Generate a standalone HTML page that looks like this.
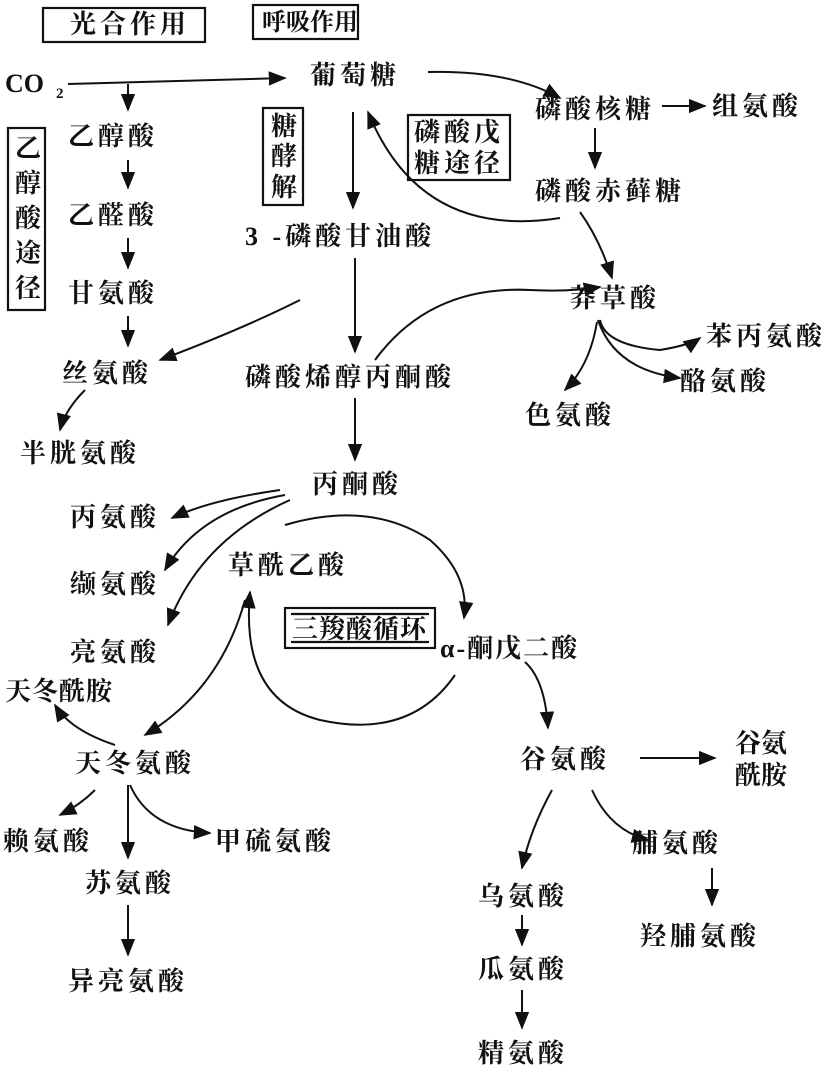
<!DOCTYPE html>
<html><head><meta charset="utf-8"><style>
html,body{margin:0;padding:0;background:#fff;}
svg{display:block}
text{font-family:"Liberation Serif","Noto Serif CJK SC","Noto Sans CJK SC",serif;font-size:26px;font-weight:bold;fill:#111;letter-spacing:4px;}
</style></head><body>
<svg width="831" height="1080" viewBox="0 0 831 1080" xmlns="http://www.w3.org/2000/svg">
<defs><marker id="a" viewBox="0 0 10 10" refX="9" refY="5" markerWidth="9" markerHeight="9" orient="auto"><path d="M0,1 L10,5 L0,9 z" fill="#111"/></marker></defs>
<g fill="none" stroke="#111" stroke-width="2.2">
<rect x="43" y="8" width="162" height="34"/>
<rect x="253" y="5" width="105" height="34"/>
<rect x="8" y="128" width="37" height="182"/>
<rect x="263" y="108" width="40" height="97"/>
<rect x="408" y="115" width="102" height="65"/>
<rect x="285" y="608" width="150" height="40"/><line x1="291" y1="614" x2="429" y2="614"/><line x1="291" y1="642" x2="429" y2="642"/>
</g>
<g fill="none" stroke="#111" stroke-width="2" marker-end="url(#a)">
<line x1="68" y1="84" x2="285" y2="78"/>
<line x1="128" y1="84" x2="128" y2="110"/>
<line x1="128" y1="160" x2="128" y2="188"/>
<line x1="128" y1="238" x2="128" y2="268"/>
<line x1="128" y1="316" x2="128" y2="346"/>
<path d="M300,300 Q240,330 160,360"/>
<path d="M85,390 Q65,410 60,430"/>
<line x1="353" y1="112" x2="353" y2="208"/>
<line x1="355" y1="258" x2="355" y2="352"/>
<line x1="355" y1="398" x2="355" y2="460"/>
<path d="M428,72 Q510,70 560,98"/>
<line x1="662" y1="106" x2="705" y2="106"/>
<line x1="595" y1="128" x2="595" y2="168"/>
<path d="M560,218 Q420,240 368,112"/>
<path d="M580,212 Q600,240 612,278"/>
<path d="M375,360 Q430,285 530,290 Q570,292 600,287"/>
<path d="M600,320 Q605,345 660,350 Q690,345 700,338"/>
<path d="M598,320 Q615,370 680,378"/>
<path d="M597,322 Q590,365 565,390"/>
<path d="M280,490 Q210,500 172,518"/>
<path d="M285,495 Q200,510 165,570"/>
<path d="M290,500 Q200,540 168,625"/>
<path d="M285,525 Q370,500 430,540 Q470,575 464,618"/>
<path d="M455,675 Q410,740 320,720 Q240,700 250,592"/>
<path d="M245,600 Q220,690 145,735"/>
<path d="M115,745 Q70,730 55,705"/>
<path d="M95,790 Q80,805 60,815"/>
<line x1="128" y1="785" x2="128" y2="858"/>
<path d="M130,785 Q150,830 210,833"/>
<line x1="128" y1="905" x2="128" y2="955"/>
<path d="M525,662 Q545,680 548,728"/>
<line x1="640" y1="758" x2="715" y2="758"/>
<path d="M552,790 Q530,830 522,868"/>
<path d="M592,790 Q610,830 648,840"/>
<line x1="712" y1="868" x2="712" y2="905"/>
<line x1="522" y1="915" x2="522" y2="945"/>
<line x1="522" y1="990" x2="522" y2="1028"/>
</g>
<text x="70" y="33">光合作用</text>
<text x="262" y="30" style="font-size:24px;letter-spacing:0">呼吸作用</text>
<text x="5" y="92" style="letter-spacing:0">CO</text><text x="56" y="98" style="font-size:15px">2</text>
<text x="310" y="84">葡萄糖</text>
<text x="535" y="118">磷酸核糖</text>
<text x="712" y="115">组氨酸</text>
<text x="68" y="145">乙醇酸</text>
<g style="font-size:23px;letter-spacing:0"><text x="15" y="157">乙</text><text x="15" y="192">醇</text><text x="15" y="227">酸</text><text x="15" y="262">途</text><text x="15" y="297">径</text>
<text x="271" y="135">糖</text><text x="271" y="165">酵</text><text x="271" y="196">解</text>
<text x="414" y="141">磷酸戊</text><text x="414" y="172">糖途径</text></g>
<text x="245" y="245">3 -磷酸甘油酸</text>
<text x="535" y="200">磷酸赤藓糖</text>
<text x="68" y="224">乙醛酸</text>
<text x="68" y="302">甘氨酸</text>
<text x="570" y="307">莽草酸</text>
<text x="706" y="345">苯丙氨酸</text>
<text x="62" y="382">丝氨酸</text>
<text x="245" y="386">磷酸烯醇丙酮酸</text>
<text x="680" y="390">酪氨酸</text>
<text x="525" y="424">色氨酸</text>
<text x="20" y="462">半胱氨酸</text>
<text x="312" y="493">丙酮酸</text>
<text x="70" y="526">丙氨酸</text>
<text x="228" y="574">草酰乙酸</text>
<text x="70" y="593">缬氨酸</text>
<text x="292" y="638" style="letter-spacing:1px">三羧酸循环</text>
<text x="440" y="657" style="letter-spacing:2px">α-酮戊二酸</text>
<text x="70" y="661">亮氨酸</text>
<text x="5" y="700" style="letter-spacing:1px">天冬酰胺</text>
<text x="75" y="772">天冬氨酸</text>
<text x="520" y="768">谷氨酸</text>
<text x="735" y="752" style="letter-spacing:0">谷氨</text><text x="735" y="784" style="letter-spacing:0">酰胺</text>
<text x="3" y="850">赖氨酸</text>
<text x="215" y="850">甲硫氨酸</text>
<text x="632" y="852">脯氨酸</text>
<text x="85" y="892">苏氨酸</text>
<text x="478" y="905">乌氨酸</text>
<text x="640" y="945">羟脯氨酸</text>
<text x="478" y="978">瓜氨酸</text>
<text x="68" y="990">异亮氨酸</text>
<text x="478" y="1062">精氨酸</text>
</svg>
</body></html>
